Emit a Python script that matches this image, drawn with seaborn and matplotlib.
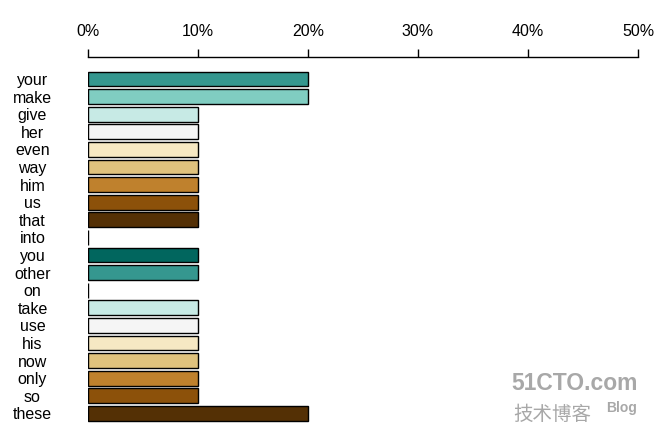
import matplotlib
matplotlib.use("Agg")
import matplotlib.pyplot as plt
from matplotlib.ticker import PercentFormatter
import seaborn as sns

words = ["your", "make", "give", "her", "even", "way", "him", "us", "that", "into",
         "you", "other", "on", "take", "use", "his", "now", "only", "so", "these"]
shares = [0.20, 0.20, 0.10, 0.10, 0.10, 0.10, 0.10, 0.10, 0.10, 0.0,
          0.10, 0.10, 0.0, 0.10, 0.10, 0.10, 0.10, 0.10, 0.10, 0.20]
colours = ["#35978f", "#80cdc1", "#c7eae5", "#f5f5f5", "#f6e8c3", "#dfc27d", "#bf812d",
           "#8c510a", "#543005", "#003c30", "#01665e", "#35978f", "#80cdc1", "#c7eae5",
           "#f5f5f5", "#f6e8c3", "#dfc27d", "#bf812d", "#8c510a", "#543005"]
x_ticks = [0.0, 0.1, 0.2, 0.3, 0.4, 0.5]

sns.set_style("white")
plt.rcParams["font.family"] = ["Liberation Sans", "DejaVu Sans"]
plt.rcParams["text.color"] = "black"
plt.rcParams["xtick.color"] = "black"
plt.rcParams["ytick.color"] = "black"

fig = plt.figure(figsize=(6.56, 4.42), dpi=100)
ax = fig.add_axes([88 / 656, 1 - 431 / 442, 550 / 656, (431 - 57) / 442])

sns.barplot(x=shares, y=words, hue=words, palette=colours, legend=False, saturation=1,
            orient="h", width=0.85, edgecolor="black", linewidth=1, ax=ax)

ax.set_xlim(0, 0.5)
ax.set_ylim(20, -1.25)
ax.set_xticks(x_ticks)
ax.xaxis.set_major_formatter(PercentFormatter(1.0, decimals=0))
ax.xaxis.tick_top()
ax.tick_params(axis="x", top=True, direction="out", length=6, width=1,
               color="black", labelcolor="black", labelsize=11.5, pad=7)
ax.tick_params(axis="y", left=False, length=0, labelcolor="black", labelsize=11.5, pad=40)
for lab in ax.get_yticklabels():
    lab.set_horizontalalignment("center")
ax.set_xlabel("")
ax.set_ylabel("")
for side in ["left", "right", "bottom"]:
    ax.spines[side].set_visible(False)
ax.spines["top"].set_color("black")
ax.spines["top"].set_linewidth(1)

# watermark
fig.text(575 / 656, 1 - 384 / 442, "51CTO.com", ha="center", va="center",
         fontsize=16.5, fontweight="bold", color="#a8a8a8")
fig.text(552 / 656, 1 - 414 / 442, "技术博客", ha="center", va="center",
         fontsize=14, color="#a8a8a8", family=["Noto Sans CJK SC", "DejaVu Sans"])
fig.text(622 / 656, 1 - 408 / 442, "Blog", ha="center", va="center",
         fontsize=10, fontweight="bold", color="#a8a8a8")

fig.savefig("out.png", dpi=100)
